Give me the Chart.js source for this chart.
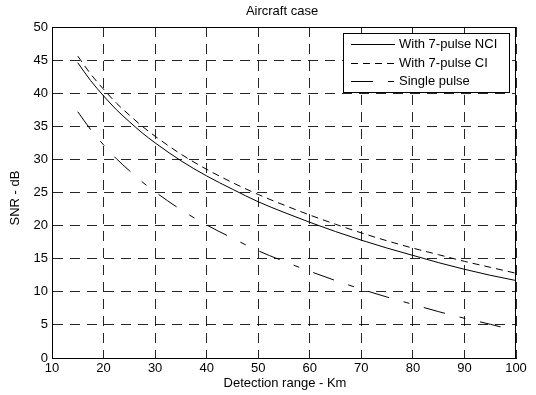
<!DOCTYPE html>
<html>
<head>
<meta charset="utf-8">
<script src="https://cdn.jsdelivr.net/npm/chart.js@4"></script>
<style>
  html, body { margin: 0; padding: 0; background: #fff; }
  #wrap { width: 536px; height: 395px; }
</style>
</head>
<body>
<div id="wrap"><canvas id="snrChart" width="536" height="395"></canvas></div>
<script>
// detection range (km) and SNR (dB)
var rangeKm   = [15, 17.5, 20, 22.5, 25, 27.5, 30, 35, 40, 45, 50, 55, 60, 65, 70, 75, 80, 85, 90, 95, 100];
var snrNCI    = [44.6, 41.9, 39.6, 37.5, 35.7, 34.0, 32.5, 29.8, 27.5, 25.5, 23.6, 22.0, 20.5, 19.1, 17.8, 16.6, 15.5, 14.4, 13.4, 12.5, 11.7];
var snrCI     = [45.6, 42.9, 40.6, 38.5, 36.7, 35.0, 33.5, 30.8, 28.5, 26.5, 24.7, 23.1, 21.6, 20.2, 18.9, 17.7, 16.6, 15.6, 14.6, 13.7, 12.8];
var rangeSP   = [15, 17.5, 20, 22.5, 25, 27.5, 30, 35, 40, 45, 50, 55, 60, 65, 70, 75, 80, 85, 90, 95, 97];
var snrSingle = [37.2, 34.5, 32.2, 30.1, 28.3, 26.6, 25.1, 22.4, 20.1, 18.1, 16.2, 14.6, 13.1, 11.7, 10.4, 9.2, 8.1, 7.0, 6.0, 5.1, 4.7];

var seriesNames = ['With 7-pulse NCI', 'With 7-pulse CI', 'Single pulse'];
var xTicks = [10, 20, 30, 40, 50, 60, 70, 80, 90, 100];
var yTicks = [0, 5, 10, 15, 20, 25, 30, 35, 40, 45, 50];

var FONT = '"Liberation Sans", Arial, sans-serif';

function pts(xs, ys) {
  return xs.map(function(x, i) { return {x: x, y: ys[i]}; });
}

// frame, title, axis names and the boxed legend
var decor = {
  id: 'decor',
  afterDraw: function(chart) {
    var c = chart.ctx, a = chart.chartArea;
    c.save();
    c.strokeStyle = '#000';
    c.lineWidth = 1;
    c.setLineDash([]);
    c.strokeRect(a.left + 0.5, a.top + 0.5, a.right - a.left - 1, a.bottom - a.top);

    c.fillStyle = '#000';
    c.font = '13px ' + FONT;
    c.textAlign = 'center';
    c.textBaseline = 'middle';
    c.fillText('Aircraft case', 282, 11);
    c.fillText('Detection range - Km', 285, 383);
    c.save();
    c.translate(15, 198);
    c.rotate(-Math.PI / 2);
    c.fillText('SNR - dB', 0, 0);
    c.restore();

    // legend
    var bx = 343, by = 33, bw = 166, bh = 59;
    c.fillStyle = '#fff';
    c.fillRect(bx, by, bw, bh);
    c.strokeRect(bx + 0.5, by + 0.5, bw, bh);
    var rows = [44, 63, 81];
    chart.data.datasets.forEach(function(ds, i) {
      c.beginPath();
      c.setLineDash(ds.borderDash || []);
      c.moveTo(351, rows[i] + 0.5);
      c.lineTo(395, rows[i] + 0.5);
      c.stroke();
      c.setLineDash([]);
      c.fillStyle = '#000';
      c.textAlign = 'left';
      c.fillText(seriesNames[i], 399, rows[i]);
    });
    c.restore();
  }
};

function gridOpts() {
  return { color: 'rgba(0,0,0,0.85)', lineWidth: 1, drawTicks: false };
}

new Chart(document.getElementById('snrChart'), {
  type: 'line',
  data: {
    datasets: [
      { label: seriesNames[0], data: pts(rangeKm, snrNCI), borderColor: '#000', borderWidth: 1, borderDash: [] },
      { label: seriesNames[1], data: pts(rangeKm, snrCI), borderColor: '#000', borderWidth: 1, borderDash: [7, 5] },
      { label: seriesNames[2], data: pts(rangeSP, snrSingle), borderColor: '#000', borderWidth: 1, borderDash: [22, 15, 6, 15] }
    ]
  },
  options: {
    responsive: false,
    animation: false,
    devicePixelRatio: 1,
    layout: { padding: { top: 27, right: 20, bottom: 0, left: 0 } },
    elements: {
      point: { radius: 0 },
      line: { cubicInterpolationMode: 'monotone', fill: false }
    },
    plugins: { legend: { display: false }, title: { display: false }, tooltip: { enabled: false } },
    scales: {
      x: {
        type: 'linear',
        min: 10, max: 100,
        afterFit: function(s) { s.height = 37; },
        afterBuildTicks: function(s) { s.ticks = xTicks.map(function(v) { return {value: v}; }); },
        border: { display: true, color: '#000', width: 1, dash: [10, 7] },
        grid: gridOpts(),
        ticks: { color: '#000', font: { family: FONT, size: 13 }, padding: 3, maxRotation: 0 }
      },
      y: {
        min: 0, max: 50,
        afterFit: function(s) { s.width = 52; },
        afterBuildTicks: function(s) { s.ticks = yTicks.map(function(v) { return {value: v}; }); },
        border: { display: true, color: '#000', width: 1, dash: [10, 7] },
        grid: gridOpts(),
        ticks: { color: '#000', font: { family: FONT, size: 13 }, padding: 4 }
      }
    }
  },
  plugins: [decor]
});
</script>
</body>
</html>
